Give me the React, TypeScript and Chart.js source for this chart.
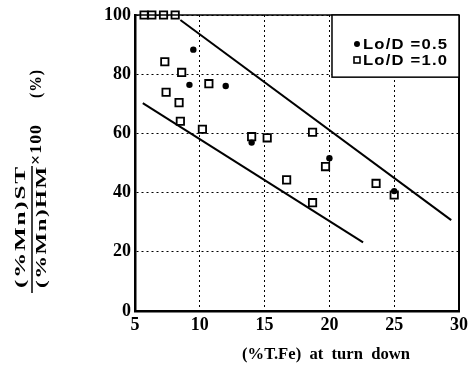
import React, { useEffect, useRef } from "react";
import { Chart, registerables } from "chart.js";

Chart.register(...registerables);

// Data
const circleX = [9.5, 9.2, 12.0, 14.0, 20.0, 25.0];
const circleY = [88.3, 76.4, 76.0, 56.9, 51.6, 40.5];

const squareX = [5.7, 6.3, 7.2, 8.1, 7.3, 8.6, 10.7, 7.4, 8.4, 8.5, 10.2, 14.0, 15.2, 16.7, 18.7, 19.7, 18.7, 23.6, 25.0];
const squareY = [100, 100, 100, 100, 84.2, 80.6, 76.8, 73.9, 70.4, 64.1, 61.4, 58.9, 58.5, 44.3, 60.4, 48.8, 36.6, 43.1, 39.2];

const upperLineX = [8.5, 29.4];
const upperLineY = [98.3, 30.7];
const lowerLineX = [5.6, 22.6];
const lowerLineY = [70.2, 23.2];

const xTicks = [5, 10, 15, 20, 25, 30];
const yTicks = [0, 20, 40, 60, 80, 100];

const legendLabels = ["Lo/D =0.5", "Lo/D =1.0"];
const xTitle = "(%T.Fe)  at  turn  down";
const yTitleNum = "(%Mn)ST";
const yTitleDen = "(%Mn)HM";
const yTitleMul = "×100";
const yTitleUnit = "(%)";

const toPts = (xs: number[], ys: number[]) => xs.map((x, i) => ({ x, y: ys[i] }));

const SERIF = "'Liberation Serif', 'DejaVu Serif', serif";
const SANS = "'Liberation Sans', Arial, sans-serif";

function drawFit(ctx: CanvasRenderingContext2D, text: string, x: number, y: number, width: number, spacing = 0) {
  ctx.save();
  (ctx as any).letterSpacing = `${spacing}px`;
  const w = ctx.measureText(text).width - spacing;
  ctx.translate(x, y);
  ctx.scale(width / w, 1);
  ctx.textAlign = "left";
  ctx.fillText(text, 0, 0);
  ctx.restore();
}

const decorPlugin = {
  id: "decor",
  afterDraw(chart: any) {
    const { ctx, chartArea } = chart;
    const { left, right, top, bottom } = chartArea;
    const xs = chart.scales.x;
    const ys = chart.scales.y;
    ctx.save();
    // frame top and right
    ctx.strokeStyle = "#000";
    ctx.setLineDash([]);
    ctx.lineWidth = 1.5;
    ctx.beginPath();
    ctx.moveTo(left, top);
    ctx.lineTo(right, top);
    ctx.stroke();
    ctx.lineWidth = 2;
    ctx.beginPath();
    ctx.moveTo(right, top);
    ctx.lineTo(right, bottom);
    ctx.stroke();

    // legend box
    const lx0 = xs.getPixelForValue(20.2);
    const ly1 = ys.getPixelForValue(79);
    ctx.fillStyle = "#fff";
    ctx.fillRect(lx0, top, right - lx0, ly1 - top);
    ctx.lineWidth = 1.5;
    ctx.strokeRect(lx0, top, right - lx0, ly1 - top);

    ctx.fillStyle = "#000";
    ctx.font = `bold 14px ${SANS}`;
    ctx.textBaseline = "middle";
    const rows = [44, 60];
    ctx.beginPath();
    ctx.arc(lx0 + 25, rows[0], 3, 0, Math.PI * 2);
    ctx.fill();
    ctx.lineWidth = 1.6;
    ctx.strokeRect(lx0 + 22, rows[1] - 3, 6, 6);
    drawFit(ctx, legendLabels[0], lx0 + 31, rows[0] + 1, 84, 1);
    drawFit(ctx, legendLabels[1], lx0 + 31, rows[1] + 1, 84, 1);

    // x title
    ctx.font = `bold 16px ${SERIF}`;
    ctx.textBaseline = "middle";
    drawFit(ctx, xTitle, 242, 355, 168);

    // y title (rotated): x' = -screenY, y' = screenX
    ctx.save();
    ctx.rotate(-Math.PI / 2);
    ctx.textBaseline = "middle";
    ctx.font = `bold 15px ${SERIF}`;
    drawFit(ctx, yTitleNum, -288, 21, 121, 1);
    drawFit(ctx, yTitleDen, -288, 42, 121, 1);
    ctx.lineWidth = 1.5;
    ctx.beginPath();
    ctx.moveTo(-293, 32);
    ctx.lineTo(-166, 32);
    ctx.stroke();
    ctx.font = `bold 17px ${SERIF}`;
    drawFit(ctx, yTitleMul, -165, 37, 40, 1);
    drawFit(ctx, yTitleUnit, -98, 37, 28, 1);
    ctx.restore();

    ctx.restore();
  },
};

export default function App() {
  const ref = useRef<HTMLCanvasElement>(null);
  useEffect(() => {
    if (!ref.current) return;
    const chart = new Chart(ref.current, {
      type: "scatter",
      data: {
        datasets: [
          {
            label: legendLabels[0],
            data: toPts(circleX, circleY),
            pointStyle: "circle",
            pointRadius: 3.2,
            backgroundColor: "#000",
            borderColor: "#000",
            borderWidth: 0,
            clip: false,
          },
          {
            label: legendLabels[1],
            data: toPts(squareX, squareY),
            pointStyle: "rect",
            pointRadius: 5.2,
            backgroundColor: "#fff",
            borderColor: "#000",
            borderWidth: 1.8,
            clip: false,
          },
          {
            label: "upper",
            data: toPts(upperLineX, upperLineY),
            showLine: true,
            pointRadius: 0,
            borderColor: "#000",
            borderWidth: 2,
            clip: false,
          },
          {
            label: "lower",
            data: toPts(lowerLineX, lowerLineY),
            showLine: true,
            pointRadius: 0,
            borderColor: "#000",
            borderWidth: 2,
            clip: false,
          },
        ],
      } as any,
      options: {
        responsive: false,
        animation: false,
        layout: { padding: { left: 0, top: 15, right: 12, bottom: 0 } },
        plugins: { legend: { display: false }, tooltip: { enabled: false } },
        scales: {
          x: {
            type: "linear",
            min: 5,
            max: 30,
            afterBuildTicks: (s: any) => {
              s.ticks = xTicks.map((v) => ({ value: v }));
            },
            afterFit: (s: any) => {
              s.height = 59;
            },
            ticks: {
              color: "#000",
              font: { family: SERIF, size: 18, weight: "bold" },
              padding: 4,
              maxRotation: 0,
              autoSkip: false,
            },
            grid: { color: "#000", lineWidth: 1, drawTicks: false },
            border: { display: true, color: "#000", width: 2.5, dash: [2, 3] },
          },
          y: {
            type: "linear",
            min: 0,
            max: 100,
            afterBuildTicks: (s: any) => {
              s.ticks = yTicks.map((v) => ({ value: v }));
            },
            afterFit: (s: any) => {
              s.width = 135;
            },
            ticks: {
              color: "#000",
              font: { family: SERIF, size: 18, weight: "bold" },
              padding: 4,
              autoSkip: false,
            },
            grid: { color: "#000", lineWidth: 1, drawTicks: false },
            border: { display: true, color: "#000", width: 2.5, dash: [2, 3] },
          },
        },
      } as any,
      plugins: [decorPlugin],
    });
    return () => chart.destroy();
  }, []);
  return (
    <div style={{ position: "absolute", left: 0, top: 0, width: 472, height: 370, background: "#fff" }}>
      <canvas ref={ref} width={472} height={370} />
    </div>
  );
}
